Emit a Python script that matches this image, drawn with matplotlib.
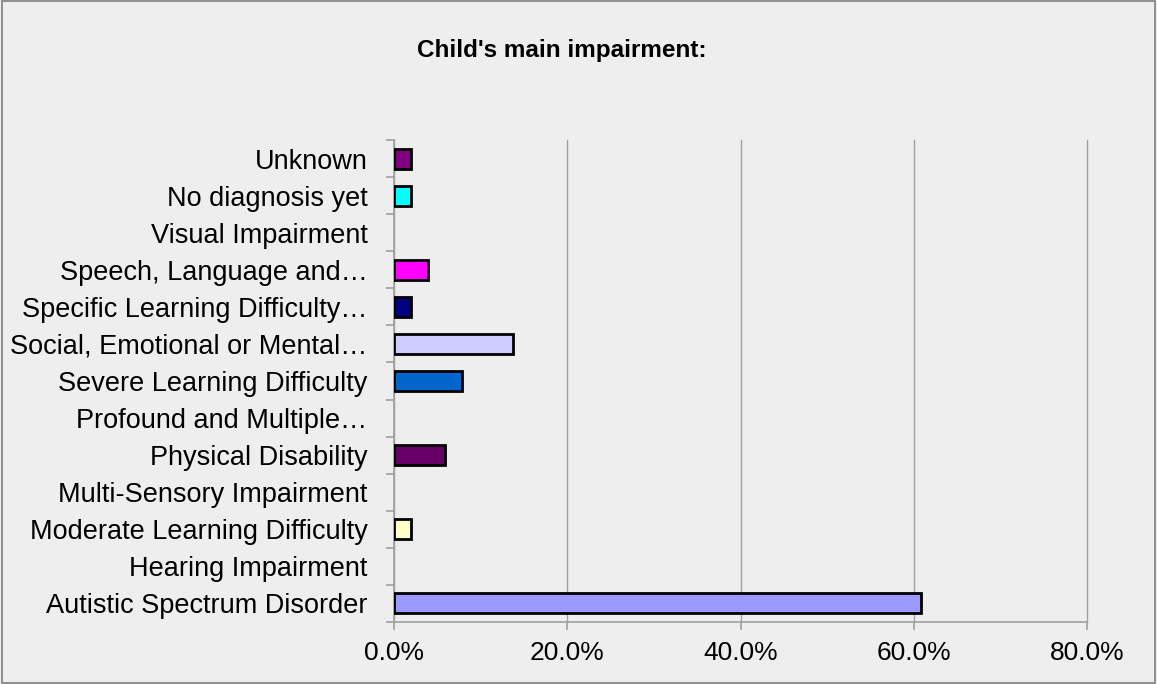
import matplotlib
matplotlib.use("Agg")
import matplotlib.pyplot as plt
from matplotlib.patches import Rectangle
from matplotlib.ticker import FixedLocator, PercentFormatter

categories = [
    "Autistic Spectrum Disorder",
    "Hearing Impairment",
    "Moderate Learning Difficulty",
    "Multi-Sensory Impairment",
    "Physical Disability",
    "Profound and Multiple\u2026",
    "Severe Learning Difficulty",
    "Social, Emotional or Mental\u2026",
    "Specific Learning Difficulty\u2026",
    "Speech, Language and\u2026",
    "Visual Impairment",
    "No diagnosis yet",
    "Unknown",
]
percent = [60.8, 0.0, 2.0, 0.0, 5.9, 0.0, 7.8, 13.7, 2.0, 3.9, 0.0, 2.0, 2.0]
bar_colors = [
    "#9999FF", "#993366", "#FFFFCC", "#CCFFFF", "#660066", "#FF8080",
    "#0066CC", "#CCCCFF", "#000080", "#FF00FF", "#FFFF00", "#00FFFF", "#800080",
]
x_ticks = [0, 20, 40, 60, 80]

BG = "#EEEEEE"
GRID = "#A0A0A0"
NARROW = ["Liberation Sans Narrow", "Liberation Sans", "DejaVu Sans"]

fig = plt.figure(figsize=(11.57, 6.84), dpi=100, facecolor=BG)
ax = fig.add_axes([394 / 1157, 1 - 622 / 684, (1087 - 394) / 1157, (622 - 140) / 684])
ax.set_facecolor(BG)

# outer chart border
fig.patches.append(Rectangle((0.0015, 0.002), 0.997, 0.996, transform=fig.transFigure,
                             fill=False, edgecolor="#7F7F7F", linewidth=1.2))

ypos = list(range(len(categories)))
bars = ax.barh(ypos, percent, height=0.54, color=bar_colors, edgecolor="black",
               linewidth=2.0, zorder=3)
# empty categories get no outline either
for bar, val in zip(bars, percent):
    if val == 0:
        bar.set_visible(False)

ax.set_xlim(0, 80)
ax.set_ylim(-0.5, len(categories) - 0.5)

ax.xaxis.set_major_locator(FixedLocator(x_ticks))
ax.xaxis.set_major_formatter(PercentFormatter(decimals=1))
ax.grid(True, axis="x", color=GRID, linewidth=1.0, zorder=0)
for gl in ax.get_xgridlines():
    gl.set_clip_on(False)

# category ticks sit on the boundaries between bars
ax.set_yticks([y - 0.5 for y in ypos] + [len(categories) - 0.5])
ax.set_yticklabels([])
ax.set_yticks(ypos, minor=True)
ax.set_yticklabels(categories, minor=True, fontsize=19.5, family=["Liberation Sans", "DejaVu Sans"])
ax.tick_params(axis="y", which="minor", length=0, pad=19)
ax.tick_params(axis="y", which="major", length=6, color=GRID, width=1.2)
ax.tick_params(axis="x", length=6, color=GRID, width=1.2, pad=8, labelsize=19)
for lbl in ax.get_xticklabels():
    lbl.set_family(NARROW)

for side in ("top", "right"):
    ax.spines[side].set_visible(False)
for side in ("left", "bottom"):
    ax.spines[side].set_color(GRID)
    ax.spines[side].set_linewidth(1.2)

fig.text(562 / 1157, 1 - 50 / 684, "Child's main impairment:", ha="center", va="center",
         fontsize=17.5, fontweight="bold", family=NARROW)

fig.savefig("out.png", dpi=100, facecolor=BG)
